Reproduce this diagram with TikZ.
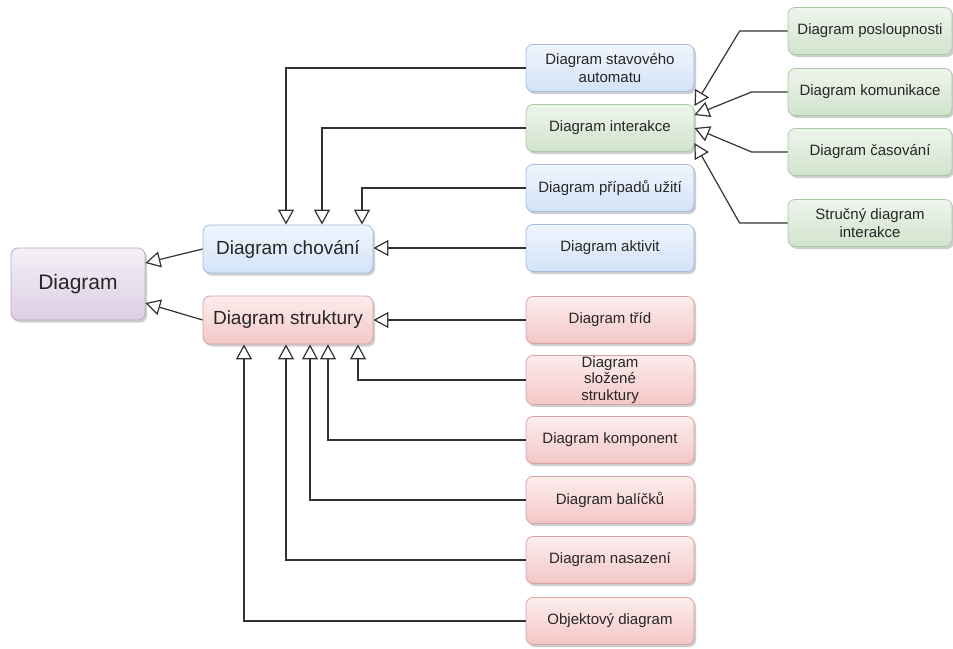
\documentclass[tikz,border=0pt]{standalone}
\usepackage{fontspec}
\setmainfont{Liberation Sans}
\usetikzlibrary{arrows.meta,shadows}

% fill gradients and borders of the four box families
\definecolor{purpleTop}{HTML}{F4F0F7}
\definecolor{purpleBot}{HTML}{DCCFE4}
\definecolor{purpleLine}{HTML}{BBA9CB}
\definecolor{blueTop}{HTML}{F0F5FD}
\definecolor{blueBot}{HTML}{D3E3F8}
\definecolor{blueLine}{HTML}{A3BCDD}
\definecolor{redTop}{HTML}{FCEDED}
\definecolor{redBot}{HTML}{F4C6C6}
\definecolor{redLine}{HTML}{DAA3A3}
\definecolor{greenTop}{HTML}{EEF5EC}
\definecolor{greenBot}{HTML}{D1E4CD}
\definecolor{greenLine}{HTML}{AACBA2}
\definecolor{txt}{HTML}{262626}
\definecolor{edge}{HTML}{333333}

\begin{document}
\begin{tikzpicture}[x=1pt,y=-1pt,
  box/.style={rounded corners=7pt, draw=#1Line, line width=0.8pt,
    top color=#1Top, bottom color=#1Bot, text=txt, align=center, inner sep=1pt,
    drop shadow={shadow xshift=2pt, shadow yshift=-2.5pt, opacity=0.35, fill=black!55}},
  small/.style={minimum width=168pt, minimum height=47pt, font=\fontsize{15}{18}\selectfont},
  side/.style={minimum width=164pt, minimum height=47pt, font=\fontsize{15}{18}\selectfont},
  mid/.style={minimum width=170pt, minimum height=48pt, font=\fontsize{19}{22}\selectfont},
  gen/.style={draw=edge, line width=1.2pt,
    -{Triangle[length=15pt, width=16pt, fill=white]}}]

\fill[white] (0,0) rectangle (953,648);
\useasboundingbox (0,0) rectangle (953,648);

% root and the two main kinds
\node[box=purple, minimum width=134pt, minimum height=72pt,
      font=\fontsize{21}{24}\selectfont] (diag) at (78,284) {Diagram};
\node[box=blue, mid] (chov) at (288,249) {Diagram chování};
\node[box=red, mid] (strk) at (288,320) {Diagram struktury};

% behaviour diagrams
\node[box=blue, small] (stav) at (610,68) {Diagram stavového\\automatu};
\node[box=green, small] (inter) at (610,128) {Diagram interakce};
\node[box=blue, small] (pripad) at (610,188) {Diagram případů užití};
\node[box=blue, small] (aktiv) at (610,248) {Diagram aktivit};

% structure diagrams
\node[box=red, small] (trid) at (610,320) {Diagram tříd};
\node[box=red, small, font=\fontsize{15}{16.5}\selectfont] (slozene) at (610,380) {Diagram\\složené\\struktury};
\node[box=red, small] (komp) at (610,440) {Diagram komponent};
\node[box=red, small] (balik) at (610,500) {Diagram balíčků};
\node[box=red, small] (nasaz) at (610,560) {Diagram nasazení};
\node[box=red, small] (objekt) at (610,621) {Objektový diagram};

% interaction diagrams
\node[box=green, side] (posl) at (870,31) {Diagram posloupnosti};
\node[box=green, side] (komun) at (870,92) {Diagram komunikace};
\node[box=green, side] (casov) at (870,152) {Diagram časování};
\node[box=green, side] (strucny) at (870,223) {Stručný diagram\\interakce};

% generalisation arrows
\draw[gen] (chov.west) -- ([yshift=21pt]diag.east);
\draw[gen] (strk.west) -- ([yshift=-19pt]diag.east);

\draw[gen] (stav.west) -| ([xshift=-2pt]chov.north);
\draw[gen] (inter.west) -| ([xshift=34pt]chov.north);
\draw[gen] (pripad.west) -| ([xshift=74pt]chov.north);
\draw[gen] (aktiv.west) -- (aktiv.west -| chov.east);

\draw[gen] (trid.west) -- (trid.west -| strk.east);
\draw[gen] (slozene.west) -| ([xshift=70pt]strk.south);
\draw[gen] (komp.west) -| ([xshift=40pt]strk.south);
\draw[gen] (balik.west) -| ([xshift=22pt]strk.south);
\draw[gen] (nasaz.west) -| ([xshift=-2pt]strk.south);
\draw[gen] (objekt.west) -| ([xshift=-44pt]strk.south);

\draw[gen] (posl.west) -- ++(-48,0) -- ([yshift=22pt]inter.east);
\draw[gen] (komun.west) -- ++(-36,0) -- ([yshift=13pt]inter.east);
\draw[gen] (casov.west) -- ++(-36,0) -- (inter.east);
\draw[gen] (strucny.west) -- ++(-48,0) -- ([yshift=-15pt]inter.east);
\end{tikzpicture}
\end{document}
